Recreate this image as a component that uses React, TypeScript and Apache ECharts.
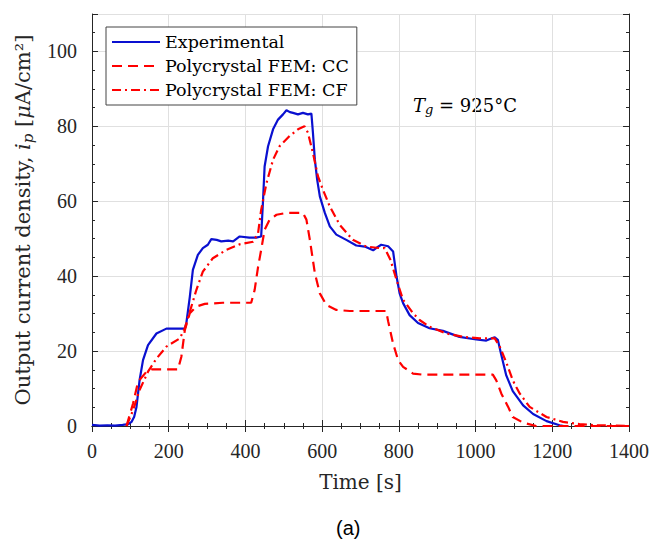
import React, { useEffect, useRef } from "react";
import * as echarts from "echarts";

// ---------- data ----------
const seriesNames = ["Experimental", "Polycrystal FEM: CC", "Polycrystal FEM: CF"];

const expTime = [0, 20, 40, 60, 80, 95, 103, 110, 116, 124, 133, 146, 168, 194, 220, 242, 246, 255, 263, 276, 289, 302, 311, 325, 337, 355, 368, 385, 410, 428, 441, 446, 450, 459, 472, 485, 498, 507, 516, 524, 537, 550, 563, 572, 576, 581, 587, 594, 607, 620, 637, 663, 689, 711, 733, 745, 754, 772, 785, 794, 802, 811, 828, 850, 880, 915, 958, 1002, 1028, 1044, 1050, 1058, 1067, 1080, 1097, 1124, 1150, 1185, 1219, 1230];
const expValue = [0.3, 0.1, 0.2, 0.1, 0.3, 0.5, 1.1, 2.5, 5.1, 12.2, 17.6, 21.6, 24.7, 26.0, 26.0, 26.0, 27.5, 34.5, 41.7, 45.7, 47.5, 48.4, 49.9, 49.7, 49.3, 49.5, 49.3, 50.6, 50.3, 50.3, 50.6, 60.4, 69.3, 74.7, 79.2, 81.8, 83.2, 84.3, 83.8, 83.6, 83.2, 83.6, 83.2, 83.4, 78.3, 71.1, 65.8, 61.3, 56.9, 53.3, 51.1, 49.7, 48.2, 47.9, 46.9, 47.8, 48.4, 48.0, 46.6, 39.9, 35.4, 32.8, 29.6, 27.5, 26.1, 25.4, 23.8, 23.1, 22.8, 23.5, 23.7, 23.0, 19.0, 13.5, 9.3, 5.5, 3.2, 1.3, 0.2, 0];

const ccTime = [90, 107, 120, 142, 155, 224, 233, 242, 255, 272, 294, 341, 415, 424, 433, 441, 450, 463, 481, 507, 550, 559, 568, 581, 594, 611, 637, 672, 767, 772, 785, 798, 811, 837, 863, 1045, 1054, 1067, 1085, 1097, 1124, 1158, 1400];
const ccValue = [0, 6, 11.8, 14.5, 15.1, 15.1, 18.5, 25.6, 30.1, 31.9, 32.6, 32.9, 32.9, 36.3, 42.5, 47.0, 52.4, 55.1, 56.4, 56.9, 56.9, 55.1, 49.7, 40.8, 35.4, 32.3, 31.0, 30.7, 30.7, 28.0, 22.0, 17.6, 15.8, 14.0, 13.7, 13.7, 12.2, 8.7, 5.1, 2.4, 0.9, 0, 0];

const cfTime = [90, 107, 124, 146, 168, 194, 229, 242, 255, 272, 289, 315, 350, 385, 420, 433, 441, 455, 472, 489, 515, 537, 554, 563, 576, 589, 602, 620, 646, 680, 715, 750, 763, 778, 794, 811, 820, 837, 854, 880, 924, 967, 1011, 1050, 1063, 1080, 1097, 1106, 1115, 1141, 1185, 1228, 1271, 1315, 1400];
const cfValue = [0, 4.2, 9.6, 14.5, 18.0, 21.2, 23.4, 26.1, 30.5, 36.3, 41.2, 44.8, 47.0, 48.5, 49.2, 51.5, 57.7, 64.9, 71.1, 74.7, 77.4, 79.2, 80.0, 78.3, 72.9, 66.7, 63.1, 58.6, 53.7, 49.7, 47.9, 47.5, 47.5, 44.4, 39.0, 33.7, 32.5, 30.1, 28.3, 26.5, 24.7, 23.8, 23.4, 23.4, 21.2, 17.0, 12.2, 10.4, 8.7, 5.1, 2.4, 1.1, 0.5, 0.2, 0.05];

const xMin = 0;
const xMax = 1400;
const xInterval = 200;
const yMin = 0;
const yMax = 110;
const yInterval = 20;
const yMinorInterval = 5;

const zip = (a: number[], b: number[]) => a.map((t, i) => [t, b[i]]);

const AXIS = "#262626";
const SERIF = "DejaVu Serif";
const TICKFONT = "Liberation Serif";

export default function App() {
  const ref = useRef<HTMLDivElement>(null);
  useEffect(() => {
    if (!ref.current) return;
    const chart = echarts.init(ref.current, undefined, { renderer: "svg" });
    const tickLabel = {
      fontFamily: TICKFONT,
      fontSize: 20,
      color: AXIS,
      margin: 15,
    };
    const baseX = {
      type: "value",
      min: xMin,
      max: xMax,
      interval: xInterval,
      axisLine: { show: true, lineStyle: { color: AXIS, width: 1 } },
      axisTick: { show: true, inside: true, length: 6, lineStyle: { color: AXIS } },
      minorTick: { show: true, splitNumber: 4, length: 3, lineStyle: { color: AXIS } },
    };
    const baseY = {
      type: "value",
      min: yMin,
      max: yMax,
      axisLine: { show: true, lineStyle: { color: AXIS, width: 1 } },
      splitLine: { show: false },
      axisLabel: { show: false },
    };
    chart.setOption({
      animation: false,
      backgroundColor: "#ffffff",
      textStyle: { fontFamily: TICKFONT },
      grid: { left: 92, right: 38, top: 14, bottom: 119, containLabel: false },
      title: {
        text: "(a)",
        left: 336,
        top: 518,
        padding: 0,
        textStyle: { fontFamily: "Liberation Sans", fontSize: 20, fontWeight: "normal", color: "#000" },
      },
      legend: {
        orient: "vertical",
        left: 106,
        top: 27,
        itemWidth: 48,
        itemHeight: 14,
        itemGap: 6,
        padding: [6, 8, 6, 5],
        backgroundColor: "#ffffff",
        borderColor: "#444",
        borderWidth: 1,
        borderRadius: 0,
        itemStyle: { opacity: 0 },
        textStyle: { fontFamily: SERIF, fontSize: 17.5, color: "#000" },
        data: seriesNames,
      },
      xAxis: [
        {
          ...baseX,
          position: "bottom",
          axisLabel: { ...tickLabel, formatter: (v: number) => String(v) },
          splitLine: { show: true, lineStyle: { color: "#e0e0e0", width: 1 } },
          name: "Time [s]",
          nameLocation: "middle",
          nameGap: 46,
          nameTextStyle: { fontFamily: SERIF, fontSize: 20, color: AXIS },
        },
        {
          ...baseX,
          position: "top",
          axisLabel: { show: false },
          splitLine: { show: false },
        },
      ],
      yAxis: [
        {
          ...baseY,
          position: "left",
          interval: yInterval,
          axisTick: { show: true, inside: true, length: 6, lineStyle: { color: AXIS } },
          axisLabel: {
            show: true,
            ...tickLabel,
            formatter: (v: number) => (v > 100 ? "" : String(v)),
          },
          splitLine: { show: true, lineStyle: { color: "#e0e0e0", width: 1 } },
          name: "{a|Output current density, }{i|i}{s|p}{a| [}{i|μ}{a|A/cm²]}",
          nameLocation: "middle",
          nameGap: 56,
          nameTextStyle: {
            fontFamily: SERIF,
            fontSize: 21,
            color: AXIS,
            rich: {
              a: { fontFamily: SERIF, fontSize: 21, color: AXIS, lineHeight: 27 },
              i: { fontFamily: SERIF, fontSize: 21, fontStyle: "italic", color: AXIS, lineHeight: 27 },
              s: { fontFamily: SERIF, fontSize: 15, fontStyle: "italic", color: AXIS, padding: [10, 0, 0, 0], lineHeight: 27 },
            },
          },
        },
        {
          ...baseY,
          position: "left",
          interval: yMinorInterval,
          axisLine: { show: false },
          axisTick: { show: true, inside: true, length: 3, lineStyle: { color: AXIS } },
        },
        {
          ...baseY,
          position: "right",
          interval: yInterval,
          axisTick: { show: true, inside: true, length: 6, lineStyle: { color: AXIS } },
        },
        {
          ...baseY,
          position: "right",
          interval: yMinorInterval,
          axisLine: { show: false },
          axisTick: { show: true, inside: true, length: 3, lineStyle: { color: AXIS } },
        },
      ],
      graphic: [
        {
          type: "text",
          left: 413,
          top: 94,
          style: {
            text: "{i|T}{s|g}{n| = 925°C}",
            rich: {
              i: { fontFamily: SERIF, fontSize: 18, fontStyle: "italic", fill: "#000", lineHeight: 24 },
              s: { fontFamily: SERIF, fontSize: 13, fontStyle: "italic", fill: "#000", padding: [9, 0, 0, 0], lineHeight: 24 },
              n: { fontFamily: SERIF, fontSize: 18, fill: "#000", lineHeight: 24 },
            },
          },
        },
      ],
      series: [
        {
          name: seriesNames[0],
          type: "line",
          data: zip(expTime, expValue),
          symbol: "none",
          xAxisIndex: 0,
          yAxisIndex: 0,
          lineStyle: { color: "#0a10d0", width: 2.2, type: "solid" },
          itemStyle: { color: "#0a10d0" },
        },
        {
          name: seriesNames[1],
          type: "line",
          data: zip(ccTime, ccValue),
          symbol: "none",
          xAxisIndex: 0,
          yAxisIndex: 0,
          lineStyle: { color: "#ff0000", width: 2.2, type: [10, 6] },
          itemStyle: { color: "#ff0000" },
        },
        {
          name: seriesNames[2],
          type: "line",
          data: zip(cfTime, cfValue),
          symbol: "none",
          xAxisIndex: 0,
          yAxisIndex: 0,
          lineStyle: { color: "#ff0000", width: 2.2, type: [9, 4, 2, 4] },
          itemStyle: { color: "#ff0000" },
        },
      ],
    });
    return () => chart.dispose();
  }, []);
  return (
    <div
      ref={ref}
      style={{ position: "absolute", left: 0, top: 0, width: 667, height: 545, background: "#fff" }}
    />
  );
}
